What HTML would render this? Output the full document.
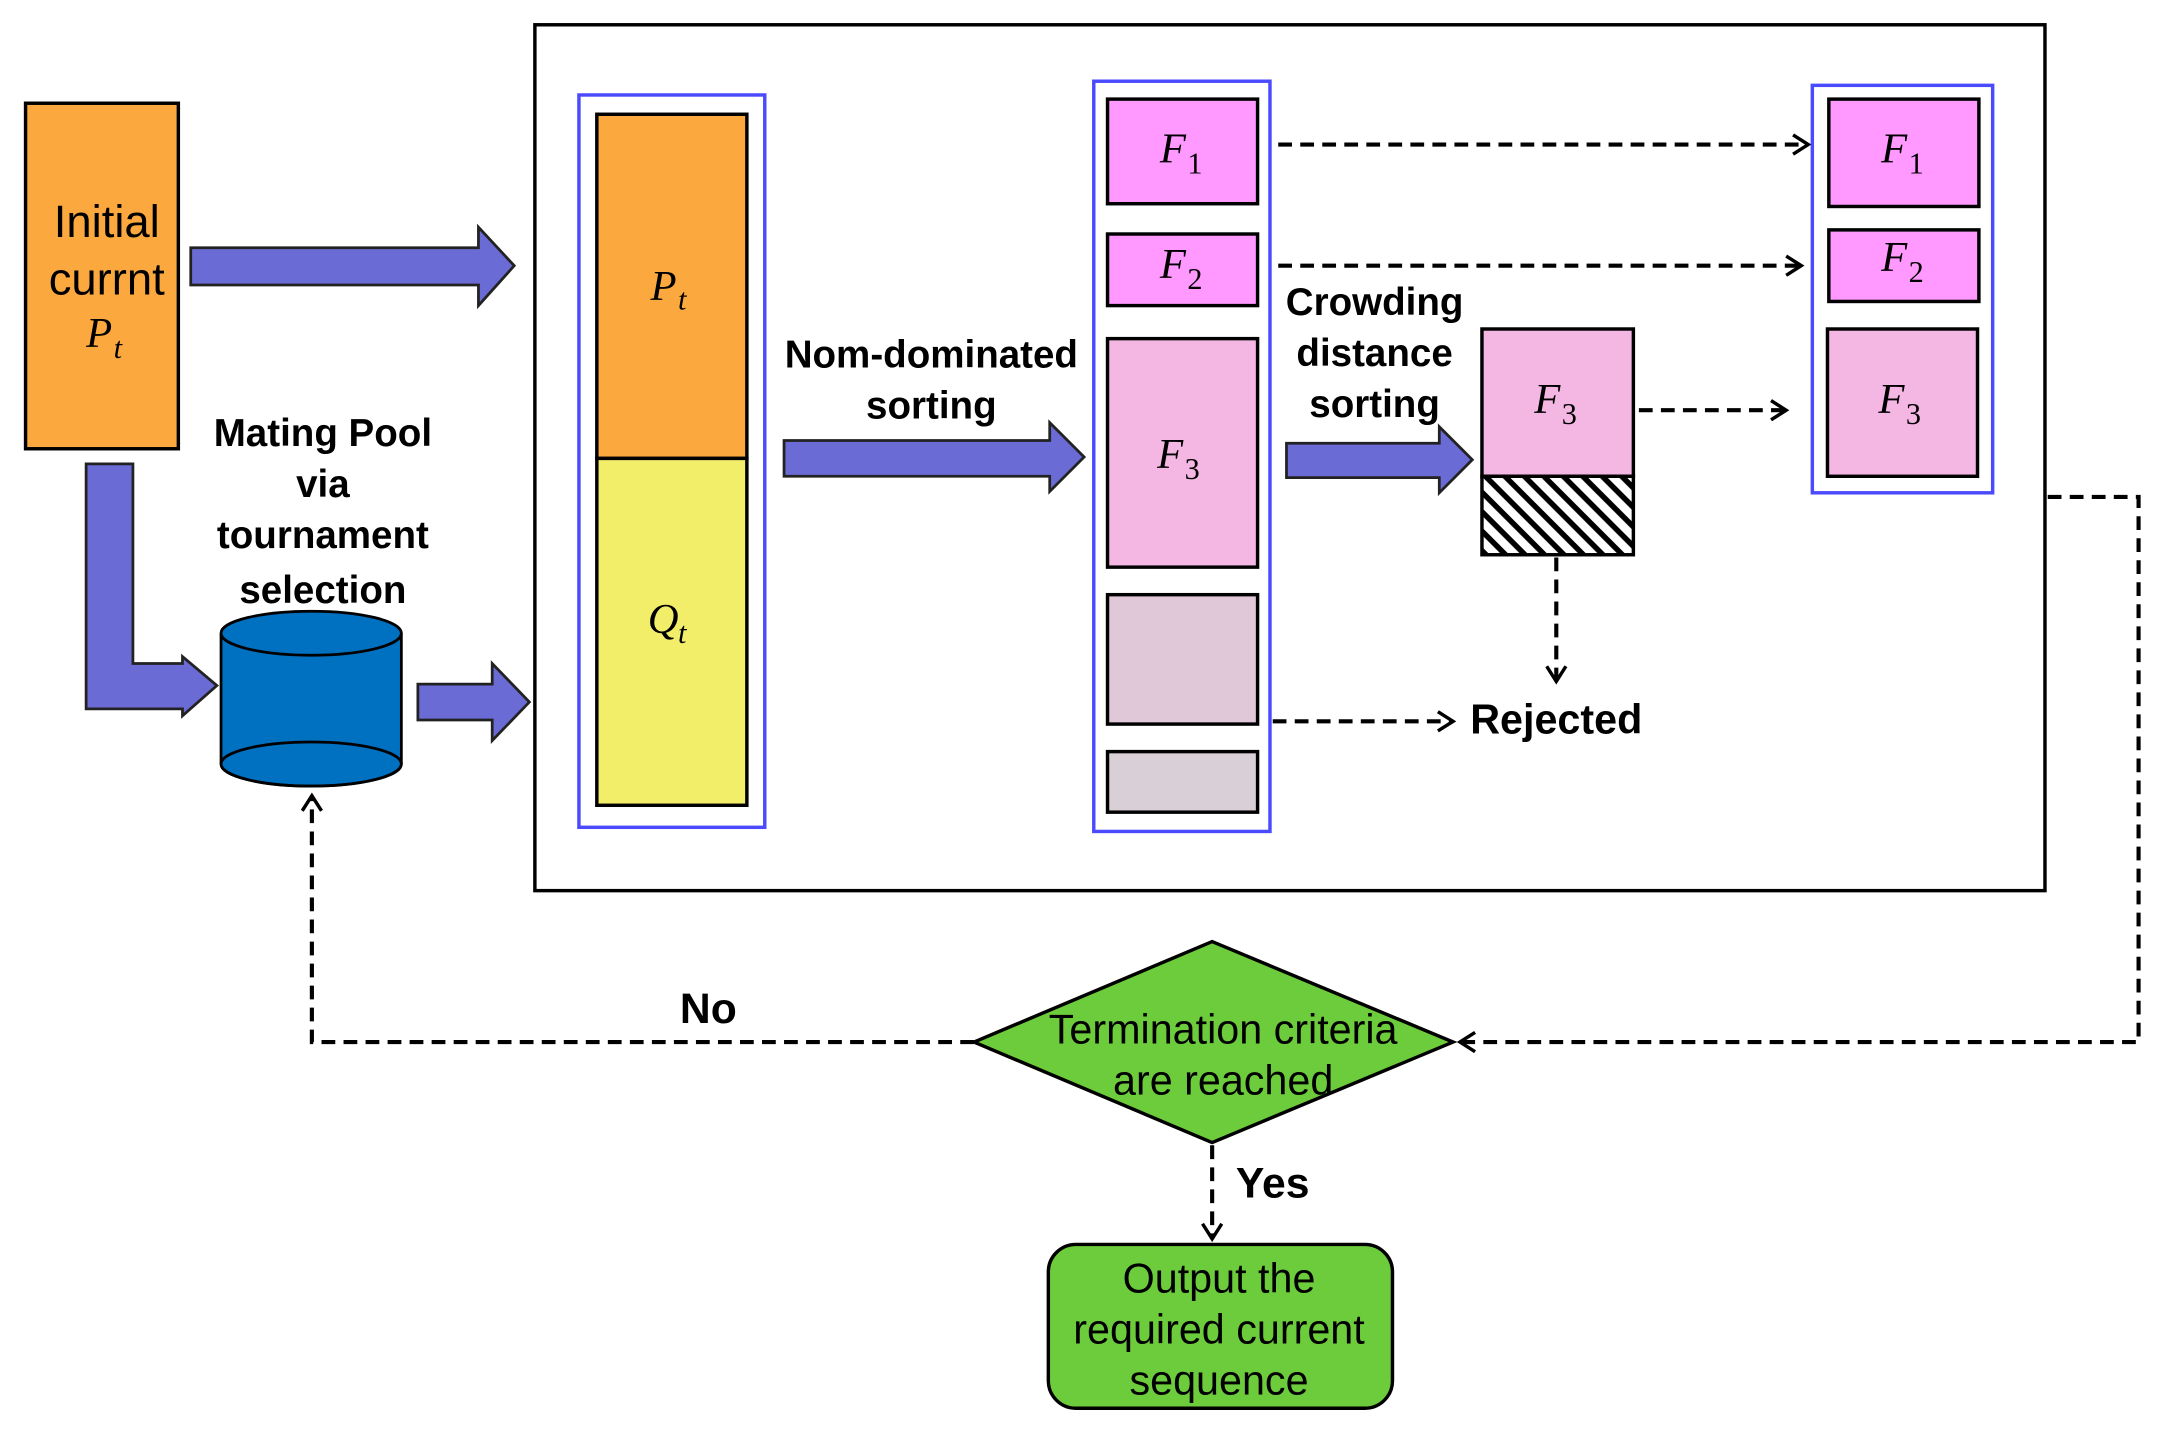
<!DOCTYPE html>
<html><head><meta charset="utf-8"><style>html,body{margin:0;padding:0;background:#fff}svg{display:block}
text{font-family:"Liberation Sans",sans-serif}
.b{font-weight:bold;font-size:28px}
.n{font-size:30px}
.m{font-family:"Liberation Serif",serif;font-style:italic;font-size:31px}
.s{font-family:"Liberation Serif",serif;font-size:22px}
</style></head><body>
<svg width="2160" height="1433" viewBox="0 0 1568 1041" xmlns="http://www.w3.org/2000/svg">
<defs>
<pattern id="h" width="10" height="10" patternUnits="userSpaceOnUse" patternTransform="rotate(45)">
<rect width="10" height="10" fill="#fff"/><rect width="10" height="4" fill="#000"/></pattern>
<marker id="a" markerWidth="16" markerHeight="16" refX="12" refY="8" orient="auto" markerUnits="userSpaceOnUse">
<path d="M1,1 L12,8 L1,15" fill="none" stroke="#000" stroke-width="2.5"/></marker>
</defs>
<rect x="388" y="18" width="1097" height="629" fill="none" stroke="#000" stroke-width="2.5"/>
<rect x="18" y="75" width="111" height="251" fill="#FBA83F" stroke="#000" stroke-width="2.5"/>
<text x="77" y="172" text-anchor="middle" style="font-size:33px">Initial</text>
<text x="77" y="214" text-anchor="middle" style="font-size:33px">currnt</text>
<text x="62" y="252" class="m">P</text><text x="82" y="260" class="s" font-style="italic">t</text>
<g fill="#6B6BD6" stroke="#222" stroke-width="2">
<path d="M138,180 H347 V165 L373,193 L347,222 V207 H138 Z"/>
<path d="M62,337 H96 V482 H132 V477 L157,498 L132,520 V515 H62 Z"/>
<path d="M303,497 H357 V482 L384,510 L357,538 V523 H303 Z"/>
<path d="M569,320 H762 V307 L787,332 L762,357 V346 H569 Z"/>
<path d="M934,322 H1045 V310 L1069,334 L1045,358 V347 H934 Z"/>
</g>
<path d="M160,460 V555 A65,16 0 0 0 291,555 V460" fill="#0070C0" stroke="#000" stroke-width="2"/>
<ellipse cx="225.5" cy="460" rx="65.5" ry="16" fill="#0070C0" stroke="#000" stroke-width="2"/>
<ellipse cx="225.5" cy="555" rx="65.5" ry="16" fill="none" stroke="#000" stroke-width="2"/>
<g text-anchor="middle"><text x="234" y="324" class="b">Mating Pool</text><text x="234" y="361" class="b">via</text><text x="234" y="398" class="b">tournament</text><text x="234" y="438" class="b">selection</text>
<text x="676" y="267" class="b">Nom-dominated</text><text x="676" y="304" class="b">sorting</text>
<text x="998" y="229" class="b">Crowding</text><text x="998" y="266" class="b">distance</text><text x="998" y="303" class="b">sorting</text>
<text x="1130" y="533" class="b" style="font-size:30px">Rejected</text><text x="514" y="743" class="b" style="font-size:31px">No</text><text x="924" y="870" class="b" style="font-size:31px">Yes</text></g>
<rect x="420" y="69" width="135" height="532" fill="none" stroke="#4A4AFF" stroke-width="2.5"/>
<rect x="433" y="83" width="109" height="250" fill="#FBA83F" stroke="#000" stroke-width="2.5"/>
<rect x="433" y="333" width="109" height="252" fill="#F2EE6A" stroke="#000" stroke-width="2.5"/>
<text x="472" y="218" class="m">P</text><text x="492" y="225" class="s" font-style="italic">t</text>
<text x="470" y="460" class="m">Q</text><text x="492" y="467" class="s" font-style="italic">t</text>
<rect x="794" y="59" width="128" height="545" fill="none" stroke="#4A4AFF" stroke-width="2.5"/>
<g stroke="#000" stroke-width="2.5">
<rect x="804" y="72" width="109" height="76" fill="#FF99FF"/>
<rect x="804" y="170" width="109" height="52" fill="#FF99FF"/>
<rect x="804" y="246" width="109" height="166" fill="#F4B7E4"/>
<rect x="804" y="432" width="109" height="94" fill="#E0C8D8"/>
<rect x="804" y="546" width="109" height="44" fill="#D8D0D6"/>
<rect x="1076" y="239" width="110" height="107" fill="#F4B7E4"/>
<rect x="1076" y="346" width="110" height="57" fill="url(#h)"/>
<rect x="1328" y="72" width="109" height="78" fill="#FF99FF"/>
<rect x="1328" y="167" width="109" height="52" fill="#FF99FF"/>
<rect x="1327" y="239" width="109" height="107" fill="#F4B7E4"/>
</g>
<rect x="1316" y="62" width="131" height="296" fill="none" stroke="#4A4AFF" stroke-width="2.5"/>
<g>
<text x="842" y="118" class="m">F</text><text x="862" y="126" class="s">1</text>
<text x="842" y="202" class="m">F</text><text x="862" y="210" class="s">2</text>
<text x="840" y="340" class="m">F</text><text x="860" y="348" class="s">3</text>
<text x="1114" y="300" class="m">F</text><text x="1134" y="308" class="s">3</text>
<text x="1366" y="118" class="m">F</text><text x="1386" y="126" class="s">1</text>
<text x="1366" y="197" class="m">F</text><text x="1386" y="205" class="s">2</text>
<text x="1364" y="300" class="m">F</text><text x="1384" y="308" class="s">3</text>
</g>
<g fill="none" stroke="#000" stroke-width="3" stroke-dasharray="10,6" marker-end="url(#a)">
<path d="M928,105 H1313"/>
<path d="M928,193 H1308"/>
<path d="M1190,298 H1297"/>
<path d="M1130,405 V495"/>
<path d="M924,524 H1055"/>
<path d="M1487,361 H1553 V757 H1060"/>
<path d="M707,757 H226 V578"/>
<path d="M880,832 V900"/>
</g>
<path d="M707,757 L880,684 L1055,757 L880,830 Z" fill="#6CCC3C" stroke="#000" stroke-width="2.5"/>
<text x="888" y="758" class="n" text-anchor="middle">Termination criteria</text>
<text x="888" y="795" class="n" text-anchor="middle">are reached</text>
<rect x="761" y="904" width="250" height="119" rx="20" fill="#6CCC3C" stroke="#000" stroke-width="2.5"/>
<text x="885" y="939" class="n" text-anchor="middle">Output the</text>
<text x="885" y="976" class="n" text-anchor="middle">required current</text>
<text x="885" y="1013" class="n" text-anchor="middle">sequence</text>
</svg>
</body></html>
